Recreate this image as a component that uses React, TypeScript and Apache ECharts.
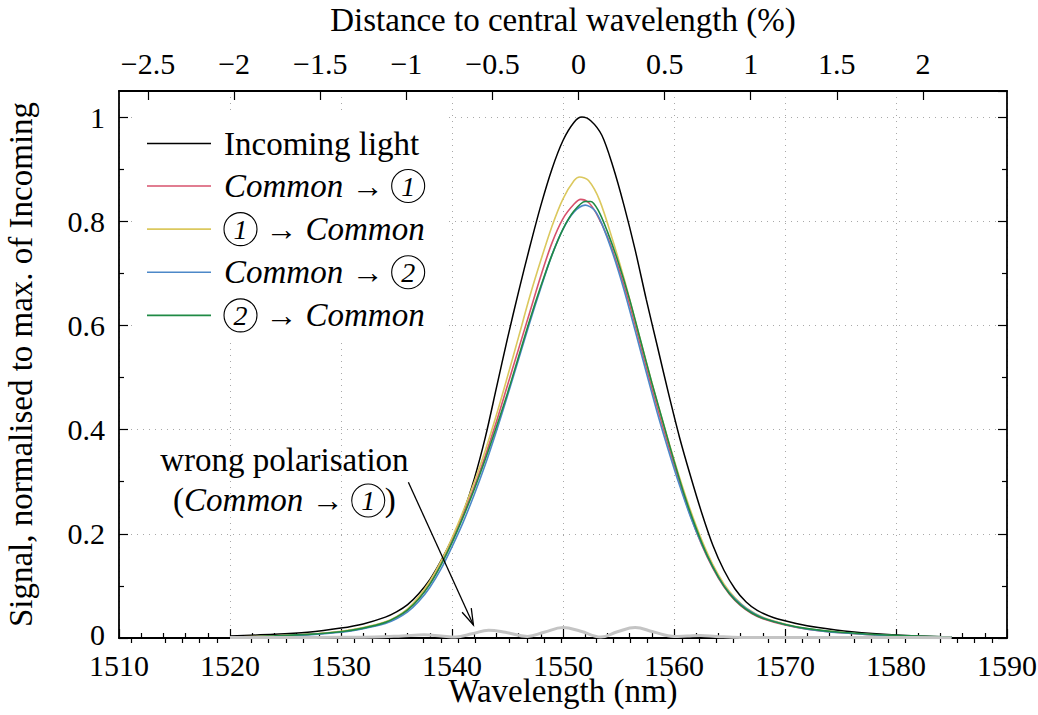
import React, { useEffect, useRef } from "react";
import * as echarts from "echarts";

const FONT = "Liberation Serif";
const LAMBDA0 = 1551.4; // central wavelength (nm) used by the top axis

const percentMajorTicks = [-2.5, -2, -1.5, -1, -0.5, 0, 0.5, 1, 1.5, 2];
const yMinorTicks = [0.1, 0.3, 0.5, 0.7, 0.9];

const incoming: [number, number][] = [
  [1520, 0.004], [1524, 0.007], [1527, 0.011], [1530, 0.019], [1532, 0.027], [1534, 0.04],
  [1535, 0.05], [1536, 0.064], [1537, 0.085], [1538, 0.112], [1539, 0.148], [1540, 0.19],
  [1541, 0.24], [1542, 0.305], [1543, 0.385], [1544, 0.48], [1545, 0.575], [1546, 0.665],
  [1547, 0.75], [1548, 0.83], [1549, 0.9], [1550, 0.955], [1551, 0.99], [1551.7, 1.0],
  [1552.5, 0.993], [1553.5, 0.965], [1554.5, 0.905], [1555.5, 0.83], [1556.5, 0.745],
  [1557.5, 0.65], [1558.5, 0.56], [1559.5, 0.47], [1560.5, 0.385], [1561.5, 0.31],
  [1562.5, 0.24], [1563.5, 0.178], [1564.5, 0.13], [1565.5, 0.094], [1566.5, 0.069],
  [1567.5, 0.053], [1569, 0.039], [1571, 0.028], [1573, 0.02], [1576, 0.012], [1580, 0.006],
  [1585, 0.002],
];

const common1: [number, number][] = [
  [1520, 0.002], [1524, 0.004], [1527, 0.007], [1530, 0.012], [1532, 0.019], [1534, 0.03],
  [1535, 0.04], [1536, 0.054], [1537, 0.076], [1538, 0.105], [1539, 0.142], [1540, 0.186],
  [1541, 0.236], [1542, 0.29], [1543, 0.35], [1544, 0.415], [1545, 0.485], [1546, 0.555],
  [1547, 0.625], [1548, 0.695], [1549, 0.758], [1550, 0.805], [1551, 0.833], [1551.6, 0.842],
  [1552.3, 0.836], [1553, 0.815], [1554, 0.77], [1555, 0.71], [1556, 0.64], [1557, 0.56],
  [1558, 0.48], [1559, 0.405], [1560, 0.333], [1561, 0.265], [1562, 0.205], [1563, 0.155],
  [1564, 0.115], [1565, 0.084], [1566, 0.062], [1567, 0.047], [1568, 0.037], [1570, 0.025],
  [1572, 0.017], [1575, 0.01], [1580, 0.004], [1585, 0.001],
];

const oneToCommon: [number, number][] = [
  [1520, 0.002], [1524, 0.004], [1527, 0.007], [1530, 0.013], [1532, 0.02], [1534, 0.031],
  [1535, 0.041], [1536, 0.056], [1537, 0.079], [1538, 0.109], [1539, 0.147], [1540, 0.192],
  [1541, 0.243], [1542, 0.299], [1543, 0.36], [1544, 0.428], [1545, 0.502], [1546, 0.578],
  [1547, 0.655], [1548, 0.725], [1549, 0.79], [1550, 0.843], [1551, 0.878], [1551.5, 0.885],
  [1552.3, 0.878], [1553.3, 0.84], [1554.5, 0.762], [1555.5, 0.69], [1556.5, 0.61],
  [1557.5, 0.53], [1558.5, 0.452], [1559.5, 0.378], [1560.5, 0.308], [1561.5, 0.244],
  [1562.5, 0.188], [1563.5, 0.141], [1564.5, 0.104], [1565.5, 0.077], [1566.5, 0.058],
  [1568, 0.04], [1570, 0.027], [1572, 0.018], [1575, 0.011], [1580, 0.004], [1585, 0.001],
];

const common2: [number, number][] = [
  [1520, 0.001], [1524, 0.003], [1527, 0.006], [1530, 0.011], [1532, 0.018], [1534, 0.028],
  [1535, 0.037], [1536, 0.05], [1537, 0.07], [1538, 0.097], [1539, 0.132], [1540, 0.175],
  [1541, 0.222], [1542, 0.275], [1543, 0.333], [1544, 0.397], [1545, 0.465], [1546, 0.535],
  [1547, 0.605], [1548, 0.672], [1549, 0.735], [1550, 0.785], [1551, 0.818], [1552, 0.831],
  [1552.8, 0.822], [1553.5, 0.795], [1554.5, 0.737], [1555.5, 0.668], [1556.5, 0.59],
  [1557.5, 0.51], [1558.5, 0.432], [1559.5, 0.36], [1560.5, 0.293], [1561.5, 0.232],
  [1562.5, 0.18], [1563.5, 0.136], [1564.5, 0.1], [1565.5, 0.075], [1566.5, 0.057],
  [1568, 0.039], [1570, 0.026], [1572, 0.017], [1575, 0.01], [1580, 0.004], [1585, 0.001],
];

const twoToCommon: [number, number][] = [
  [1520, 0.002], [1524, 0.004], [1527, 0.007], [1530, 0.012], [1532, 0.019], [1534, 0.03],
  [1535, 0.04], [1536, 0.054], [1537, 0.075], [1538, 0.103], [1539, 0.14], [1540, 0.183],
  [1541, 0.232], [1542, 0.285], [1543, 0.343], [1544, 0.405], [1545, 0.47], [1546, 0.54],
  [1547, 0.61], [1548, 0.675], [1549, 0.735], [1550, 0.785], [1551, 0.82], [1552, 0.838],
  [1552.5, 0.838], [1553.2, 0.82], [1554, 0.78], [1555, 0.72], [1556, 0.65], [1557, 0.57],
  [1558, 0.49], [1559, 0.415], [1560, 0.34], [1561, 0.27], [1562, 0.21], [1563, 0.158],
  [1564, 0.117], [1565, 0.085], [1566, 0.063], [1567, 0.048], [1568, 0.038], [1570, 0.026],
  [1572, 0.018], [1575, 0.011], [1580, 0.005], [1585, 0.002],
];

const wrongPolarisation: [number, number][] = [
  [1520, 0.001], [1525, 0.001], [1530, 0.0015], [1533, 0.002], [1535.5, 0.004], [1537.5, 0.006],
  [1539, 0.004], [1540.3, 0.002], [1541.8, 0.008], [1543.3, 0.015], [1544.8, 0.011],
  [1546.8, 0.003], [1548.3, 0.011], [1550, 0.02], [1551.6, 0.013], [1553.4, 0.002],
  [1554.9, 0.012], [1556.5, 0.02], [1558.1, 0.012], [1560, 0.003], [1561.2, 0.004],
  [1562.4, 0.005], [1563.8, 0.003], [1566, 0.001], [1570, 0.001], [1580, 0.001], [1585, 0.0005],
];

// annotation anchor points, in data coordinates
const noteLine1: [number, number] = [1524.9, 0.341];
const noteLine2: [number, number] = [1524.9, 0.264];
const arrowFrom: [number, number] = [1536.07, 0.299];
const arrowTo: [number, number] = [1541.93, 0.025];

const seriesNames = ["Incoming light", "Common → 1", "1 → Common", "Common → 2", "2 → Common"];
const seriesColors = ["#000000", "#d7526c", "#dbc85e", "#4c88c8", "#1f8a45"];
const seriesData = [incoming, common1, oneToCommon, common2, twoToCommon];

const legendText: Record<string, string> = {
  "Incoming light": "Incoming light",
  "Common → 1": "{i|Common} {a|→} {c|1}",
  "1 → Common": "{c|1} {a|→} {i|Common}",
  "Common → 2": "{i|Common} {a|→} {c|2}",
  "2 → Common": "{c|2} {a|→} {i|Common}",
};

const richStyles = {
  i: { fontFamily: FONT, fontSize: 33, fontStyle: "italic", color: "#000" },
  a: { fontFamily: FONT, fontSize: 32, color: "#000" },
  c: {
    fontFamily: FONT, fontSize: 28, fontStyle: "italic", color: "#000",
    width: 33, height: 33, lineHeight: 33, align: "center",
    borderColor: "#000", borderWidth: 1.1, borderRadius: 17,
  },
};

const pctToNm = (p: number) => LAMBDA0 * (1 + p / 100);
const fmtPct = (v: number) => {
  const p = Math.round(((v / LAMBDA0 - 1) * 100) * 10) / 10;
  if (Math.abs(p) < 1e-9) return "0";
  return (p < 0 ? "−" : "") + String(Math.abs(p));
};

const percentMinorTicks: number[] = [];
for (let k = -26; k <= 24; k++) {
  if (k % 5 !== 0) percentMinorTicks.push(k / 10);
}

const black = "#000";
const tickLine = { color: black, width: 1.2 };
const frameLine = { color: black, width: 1.8 };
const gridLine = { color: "#a8a8a8", width: 1, type: [1, 5] as number[] };

const option: any = {
  animation: false,
  backgroundColor: "#fff",
  textStyle: { fontFamily: FONT },
  grid: { left: 119, right: 31, top: 91, bottom: 77, containLabel: false, outerBoundsMode: "none" },
  legend: {
    data: seriesNames,
    orient: "vertical",
    left: 133,
    top: 111,
    padding: [16, 20, 8, 14],
    backgroundColor: "#fff",
    icon: "rect",
    itemWidth: 64,
    itemHeight: 1.6,
    itemGap: 9,
    selectedMode: false,
    formatter: (name: string) => legendText[name],
    textStyle: {
      fontFamily: FONT, fontSize: 33, color: "#000", lineHeight: 33,
      padding: [0, 0, 0, 8], rich: richStyles,
    },
  },
  xAxis: [
    {
      type: "value", position: "bottom", min: 1510, max: 1590, interval: 10,
      name: "Wavelength (nm)", nameLocation: "middle", nameGap: 36, nameMoveOverlap: false,
      nameTextStyle: { fontFamily: FONT, fontSize: 33, color: black },
      axisLine: { show: true, onZero: false, lineStyle: frameLine },
      axisTick: { show: true, inside: true, length: 9, lineStyle: tickLine },
      minorTick: { show: true, splitNumber: 5, length: 5, lineStyle: tickLine },
      axisLabel: {
        fontFamily: FONT, fontSize: 30, lineHeight: 22, color: black, margin: 16,
        formatter: (v: number) => String(v),
      },
      splitLine: { show: true, lineStyle: gridLine },
    },
    {
      type: "value", position: "top", min: 1510, max: 1590,
      name: "Distance to central wavelength (%)", nameLocation: "middle", nameGap: 55,
      nameTextStyle: { fontFamily: FONT, fontSize: 33, color: black },
      axisLine: { show: true, onZero: false, lineStyle: frameLine },
      axisTick: { show: true, inside: true, length: 9, lineStyle: tickLine, customValues: percentMajorTicks.map(pctToNm) },
      axisLabel: {
        fontFamily: FONT, fontSize: 30, color: black, margin: 13,
        customValues: percentMajorTicks.map(pctToNm), formatter: (v: number) => fmtPct(v),
      },
      splitLine: { show: false },
    },
    {
      type: "value", position: "top", min: 1510, max: 1590,
      axisLine: { show: false },
      axisTick: { show: true, inside: true, length: 5, lineStyle: tickLine, customValues: percentMinorTicks.map(pctToNm) },
      axisLabel: { show: false },
      splitLine: { show: false },
    },
  ],
  yAxis: [
    {
      type: "value", position: "left", min: 0, max: 1.05, interval: 0.2,
      name: "Signal, normalised to max. of Incoming", nameLocation: "middle", nameGap: 82,
      nameTextStyle: { fontFamily: FONT, fontSize: 33, color: black },
      axisLine: { show: true, onZero: false, lineStyle: frameLine },
      axisTick: { show: true, inside: true, length: 9, lineStyle: tickLine },
      axisLabel: {
        fontFamily: FONT, fontSize: 30, lineHeight: 22, color: black, margin: 14, showMaxLabel: false,
        formatter: (v: number) => (v === 0 ? "{z|0}" : String(v)),
        rich: { z: { fontFamily: FONT, fontSize: 30, lineHeight: 22, color: black, padding: [0, 0, 8, 0] } },
      },
      splitLine: { show: true, lineStyle: gridLine },
    },
    {
      type: "value", position: "right", min: 0, max: 1.05, interval: 0.2,
      axisLine: { show: true, onZero: false, lineStyle: frameLine },
      axisTick: { show: true, inside: true, length: 9, lineStyle: tickLine },
      axisLabel: { show: false },
      splitLine: { show: false },
    },
    {
      type: "value", position: "left", min: 0, max: 1.05,
      axisLine: { show: false },
      axisTick: { show: true, inside: true, length: 5, lineStyle: tickLine, customValues: yMinorTicks },
      axisLabel: { show: false },
      splitLine: { show: false },
    },
    {
      type: "value", position: "right", min: 0, max: 1.05,
      axisLine: { show: false },
      axisTick: { show: true, inside: true, length: 5, lineStyle: tickLine, customValues: yMinorTicks },
      axisLabel: { show: false },
      splitLine: { show: false },
    },
  ],
  series: [
    ...seriesNames.map((name, i) => ({
      type: "line",
      name,
      data: seriesData[i],
      xAxisIndex: 0,
      yAxisIndex: 0,
      symbol: "none",
      showSymbol: false,
      smooth: 0.3,
      color: seriesColors[i],
      lineStyle: { color: seriesColors[i], width: i === 0 ? 1.5 : 1.6 },
      z: 3,
    })),
    {
      type: "line",
      name: "wrong polarisation",
      data: wrongPolarisation,
      xAxisIndex: 0,
      yAxisIndex: 0,
      symbol: "none",
      showSymbol: false,
      smooth: 0.4,
      color: "#c4c4c4",
      lineStyle: { color: "#c4c4c4", width: 3 },
      z: 3,
    },
  ],
};

export default function App() {
  const ref = useRef<HTMLDivElement>(null);
  useEffect(() => {
    if (!ref.current) return;
    document.documentElement.style.overflow = "hidden";
    document.body.style.margin = "0";
    const chart = echarts.init(ref.current, null, { renderer: "svg" });
    chart.setOption(option);
    const px = (pt: [number, number]) =>
      chart.convertToPixel({ xAxisIndex: 0, yAxisIndex: 0 }, pt) as number[];
    const t1 = px(noteLine1);
    const t2 = px(noteLine2);
    const a0 = px(arrowFrom);
    const a1 = px(arrowTo);
    const dx = a1[0] - a0[0];
    const dy = a1[1] - a0[1];
    const len = Math.hypot(dx, dy);
    const ux = dx / len;
    const uy = dy / len;
    const headLen = 17;
    const ang = 0.3;
    const rot = (s: number) => [
      a1[0] - headLen * (ux * Math.cos(s * ang) - uy * Math.sin(s * ang)),
      a1[1] - headLen * (ux * Math.sin(s * ang) + uy * Math.cos(s * ang)),
    ];
    const h1 = rot(1);
    const h2 = rot(-1);
    chart.setOption({
      graphic: [
        {
          type: "text", x: t1[0], y: t1[1], z: 10,
          style: {
            text: "wrong polarisation", fontFamily: FONT, fontSize: 33, fill: "#000",
            align: "center", verticalAlign: "middle",
          },
        },
        {
          type: "text", x: t2[0], y: t2[1], z: 10,
          style: {
            text: "({i|Common} {a|→} {c|1})", fontFamily: FONT, fontSize: 33, fill: "#000",
            align: "center", verticalAlign: "middle", rich: richStyles,
          },
        },
        {
          type: "line", z: 10,
          shape: { x1: a0[0], y1: a0[1], x2: a1[0], y2: a1[1] },
          style: { stroke: "#000", lineWidth: 1.3 },
        },
        {
          type: "polyline", z: 10,
          shape: { points: [h1, a1, h2] },
          style: { stroke: "#000", lineWidth: 1.3, fill: "none" },
        },
      ],
    });
    return () => chart.dispose();
  }, []);
  return (
    <div
      ref={ref}
      style={{ position: "absolute", left: 0, top: 0, width: 1038, height: 715, background: "#fff" }}
    />
  );
}
